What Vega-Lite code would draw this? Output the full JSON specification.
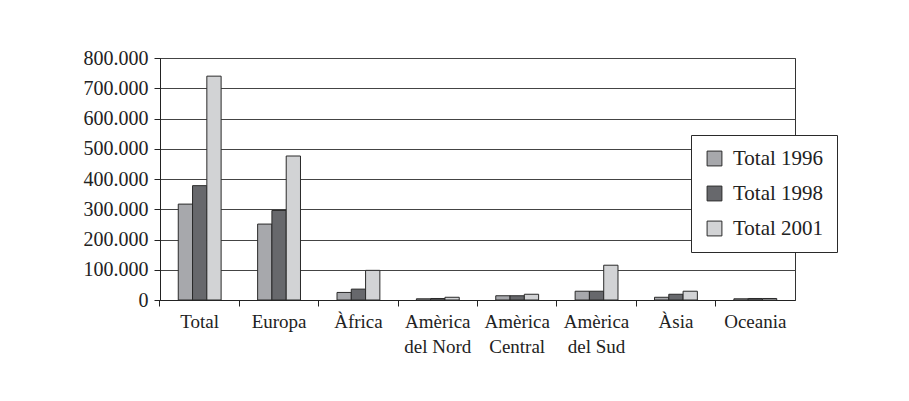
{
  "$schema": "https://vega.github.io/schema/vega-lite/v6.json",
  "autosize": "none",
  "padding": {"left": 160, "top": 58, "right": 114, "bottom": 102},
  "width": 635,
  "height": 242,
  "background": "white",
  "data": {"values": [
    {"region": "Total", "serie": "Total 1996", "value": 317000},
    {"region": "Total", "serie": "Total 1998", "value": 378000},
    {"region": "Total", "serie": "Total 2001", "value": 740000},
    {"region": "Europa", "serie": "Total 1996", "value": 251000},
    {"region": "Europa", "serie": "Total 1998", "value": 296000},
    {"region": "Europa", "serie": "Total 2001", "value": 476000},
    {"region": "Àfrica", "serie": "Total 1996", "value": 25000},
    {"region": "Àfrica", "serie": "Total 1998", "value": 36000},
    {"region": "Àfrica", "serie": "Total 2001", "value": 98000},
    {"region": "Amèrica del Nord", "serie": "Total 1996", "value": 4000},
    {"region": "Amèrica del Nord", "serie": "Total 1998", "value": 5000},
    {"region": "Amèrica del Nord", "serie": "Total 2001", "value": 9000},
    {"region": "Amèrica Central", "serie": "Total 1996", "value": 14000},
    {"region": "Amèrica Central", "serie": "Total 1998", "value": 14000},
    {"region": "Amèrica Central", "serie": "Total 2001", "value": 19000},
    {"region": "Amèrica del Sud", "serie": "Total 1996", "value": 29000},
    {"region": "Amèrica del Sud", "serie": "Total 1998", "value": 29000},
    {"region": "Amèrica del Sud", "serie": "Total 2001", "value": 115000},
    {"region": "Àsia", "serie": "Total 1996", "value": 9000},
    {"region": "Àsia", "serie": "Total 1998", "value": 19000},
    {"region": "Àsia", "serie": "Total 2001", "value": 29000},
    {"region": "Oceania", "serie": "Total 1996", "value": 4000},
    {"region": "Oceania", "serie": "Total 1998", "value": 5000},
    {"region": "Oceania", "serie": "Total 2001", "value": 5000}
  ]},
  "mark": {"type": "bar", "stroke": "#2a2a2a", "strokeWidth": 1},
  "encoding": {
    "x": {
      "field": "region", "type": "nominal", "sort": null,
      "scale": {"paddingInner": 0.46, "paddingOuter": 0.23},
      "axis": {
        "title": null, "labelAngle": 0, "bandPosition": -0.427,
        "labelExpr": "test(/^Amèrica /, datum.label) ? ['Amèrica', slice(datum.label, 8)] : datum.label",
        "labelFontSize": 19
      }
    },
    "xOffset": {"field": "serie", "type": "nominal"},
    "y": {
      "field": "value", "type": "quantitative",
      "scale": {"domain": [0, 800000], "nice": false},
      "axis": {
        "title": null, "values": [0, 100000, 200000, 300000, 400000, 500000, 600000, 700000, 800000],
        "labelExpr": "replace(format(datum.value, ','), /,/g, '.')",
        "grid": true, "labelFontSize": 20
      }
    },
    "color": {
      "field": "serie", "type": "nominal",
      "scale": {"range": ["#a7a8ac", "#67686c", "#d2d3d5"]},
      "legend": {
        "title": null, "orient": "none", "legendX": 531, "legendY": 77,
        "strokeColor": "#2a2a2a", "fillColor": "white", "padding": 13,
        "symbolType": "square", "symbolSize": 220, "symbolStrokeColor": "#2a2a2a",
        "symbolStrokeWidth": 1, "labelFontSize": 21, "labelFont": "Liberation Serif",
        "labelColor": "#222", "rowPadding": 13, "labelOffset": 8, "symbolOpacity": 1
      }
    }
  },
  "config": {
    "view": {"stroke": "#333", "strokeWidth": 1},
    "axis": {
      "labelFont": "Liberation Serif", "labelColor": "#222",
      "domainColor": "#222", "tickColor": "#222", "gridColor": "#444",
      "tickSize": 6, "labelPadding": 6, "labelLineHeight": 25
    }
  }
}
